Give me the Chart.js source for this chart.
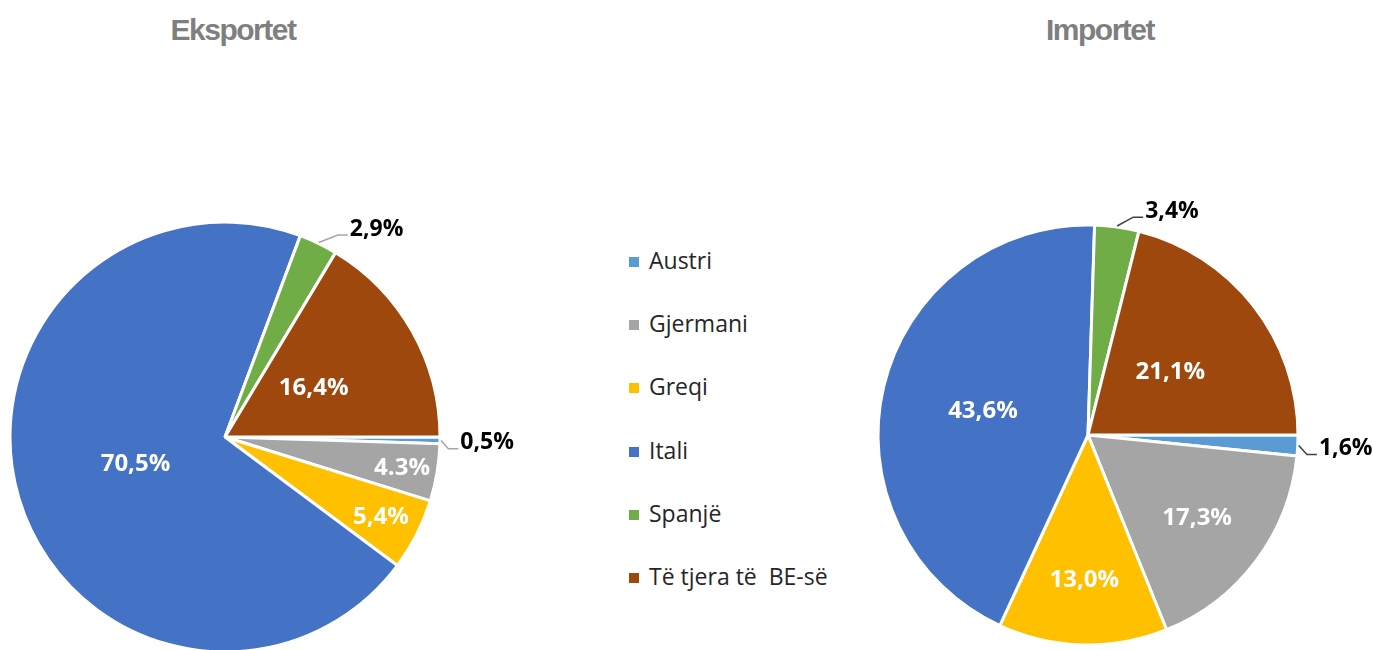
<!DOCTYPE html>
<html>
<head>
<meta charset="utf-8">
<script src="https://cdn.jsdelivr.net/npm/chart.js@4/dist/chart.umd.min.js"></script>
<style>
  body { margin: 0; width: 1373px; height: 650px; overflow: hidden; background: #fff; position: relative; }
  .titulli { position: absolute; top: 15px; font-family: "Liberation Sans", Arial, sans-serif; font-weight: bold;
    font-size: 30px; line-height: 30px; letter-spacing: -1.5px; color: #7f7f7f; transform: translateX(-50%); white-space: nowrap; }
  canvas { position: absolute; top: 0; }
  .leg { position: absolute; left: 629px; font-family: "Open Sans", sans-serif; font-size: 23px; line-height: 26px;
    color: #262626; white-space: pre; }
  .leg span { display: inline-block; width: 10px; height: 10px; margin-right: 10px; vertical-align: 2px; }
</style>
</head>
<body>
<div class="titulli" style="left:233px">Eksportet</div>
<div class="titulli" style="left:1100px">Importet</div>
<div id="legjenda"></div>
<canvas id="grafikEksport" width="560" height="650" style="left:0;width:560px;height:650px"></canvas>
<canvas id="grafikImport" width="543" height="650" style="left:830px;width:543px;height:650px"></canvas>
<script>
const vendet = ["Austri", "Gjermani", "Greqi", "Itali", "Spanjë", "Të tjera të  BE-së"];
const ngjyrat = ["#5B9BD5", "#A5A5A5", "#FFC000", "#4472C4", "#70AD47", "#9E480E"];

const eksportet = [0.5, 4.3, 5.4, 70.5, 2.9, 16.4];
const tekstEksport = ["0,5%", "4.3%", "5,4%", "70,5%", "2,9%", "16,4%"];

const importet = [1.6, 17.3, 13.0, 43.6, 3.4, 21.1];
const tekstImport = ["1,6%", "17,3%", "13,0%", "43,6%", "3,4%", "21,1%"];

// legjenda ne mes
const legjenda = document.getElementById("legjenda");
vendet.forEach((v, i) => {
  const d = document.createElement("div");
  d.className = "leg";
  d.style.top = (261 + i * 63.2 - 14) + "px";
  d.innerHTML = `<span style="background:${ngjyrat[i]}"></span>`;
  d.appendChild(document.createTextNode(v));
  legjenda.appendChild(d);
});

// etiketat e perqindjeve
const etiketat = {
  id: "etiketat",
  afterDatasetsDraw(chart, args, opts) {
    const ctx = chart.ctx;
    const vlerat = chart.data.datasets[0].data;
    const harqet = chart.getDatasetMeta(0).data;
    ctx.save();
    ctx.textBaseline = "middle";
    harqet.forEach((hark, i) => {
      const p = hark.getProps(["x", "y", "startAngle", "endAngle", "outerRadius"], true);
      const mes = (p.startAngle + p.endAngle) / 2;
      const dx = Math.cos(mes), dy = Math.sin(mes);
      const r = p.outerRadius;
      if (vlerat[i] < 4) {
        const ax = p.x + dx * (r + 18), ay = p.y + dy * (r + 18);
        const tx = ax + 2 + 24 * Math.abs(dy), ty = ay + 2;
        ctx.strokeStyle = opts.vija;
        ctx.lineWidth = 1.5;
        ctx.beginPath();
        ctx.moveTo(p.x + dx * (r + 1), p.y + dy * (r + 1));
        ctx.lineTo(tx - 12, ty + 6);
        ctx.lineTo(tx - 2, ty + 6);
        ctx.stroke();
        ctx.font = "bold 23px 'Open Sans', sans-serif";
        ctx.fillStyle = "#000";
        ctx.textAlign = "left";
        ctx.fillText(opts.tekst[i], tx, ty);
      } else {
        const f = opts.pozita[i];
        ctx.font = "bold 24px 'Open Sans', sans-serif";
        ctx.fillStyle = "#fff";
        ctx.textAlign = "center";
        ctx.fillText(opts.tekst[i], p.x + dx * r * f, p.y + dy * r * f + 1);
      }
    });
    ctx.restore();
  }
};

function plotoPite(idGrafik, vlerat, tekst, pozita, rrezja, mbushja, vija) {
  const ctx = document.getElementById(idGrafik).getContext("2d");
  return new Chart(ctx, {
    type: "pie",
    data: {
      labels: vendet,
      datasets: [
        {
          data: vlerat,
          backgroundColor: ngjyrat,
          borderColor: "#fff",
          borderWidth: 3,
          hoverOffset: 0,
        },
      ],
    },
    options: {
      responsive: false,
      animation: false,
      events: [],
      rotation: 90,
      radius: rrezja,
      layout: { padding: mbushja },
      plugins: {
        legend: { display: false },
        tooltip: { enabled: false },
        etiketat: { tekst: tekst, pozita: pozita, vija: vija },
      },
    },
    plugins: [etiketat],
  });
}

plotoPite("grafikEksport", eksportet, tekstEksport, [0, 0.835, 0.814, 0.434, 0, 0.474], 215,
  { left: 0, right: 110, top: 224, bottom: 0 }, "#a6a6a6");
plotoPite("grafikImport", importet, tekstImport, [0, 0.65, 0.685, 0.514, 0, 0.497], 210,
  { left: 0, right: 27, top: 220, bottom: 0 }, "#404040");
</script>
</body>
</html>
